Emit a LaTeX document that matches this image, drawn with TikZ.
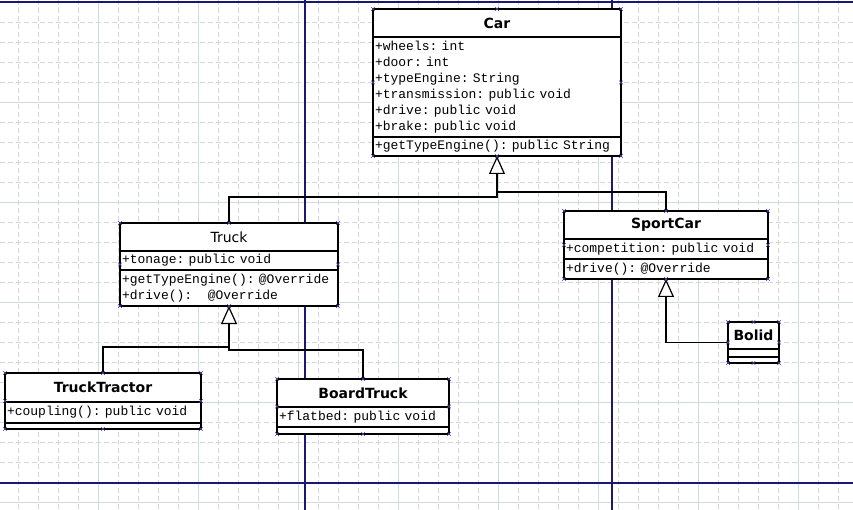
\documentclass[tikz,border=0pt]{standalone}
\usepackage{fontspec}
\setmonofont{Liberation Mono}
\newfontfamily\umlsans{DejaVu Sans}
\usetikzlibrary{arrows.meta,positioning,fit,calc}
\definecolor{umlnavy}{RGB}{25,25,115}
\definecolor{umlminor}{RGB}{214,214,214}
\definecolor{umlmajor}{RGB}{208,220,220}
\definecolor{umlhandle}{RGB}{70,70,170}
\newcommand\umlmono{\ttfamily\fontsize{13}{16}\selectfont\frenchspacing
  \spaceskip=0.6em\relax\xspaceskip=0.6em\relax}
\tikzset{
  ctitle/.style={rectangle, draw, fill=white, line width=1.7pt, inner sep=0pt, outer sep=0pt,
                 minimum height=28pt, font=\umlsans\bfseries\fontsize{14}{16}\selectfont},
  cpart/.style={rectangle, draw, fill=white, line width=1.7pt, inner xsep=2pt, inner ysep=0pt,
                outer sep=0pt, align=left, font=\umlmono},
  cbox/.style={inner sep=0pt, outer sep=0pt},
  clink/.style={line width=1.7pt, black},
  cgen/.style={clink, -{Triangle[length=18pt, width=16pt, fill=white, line width=1.2pt]}},
  chdl/.style={umlhandle, line width=0.6pt},
  cgridminor/.style={umlminor, line width=0.6pt, dash pattern=on 5pt off 3pt},
  cgridmajor/.style={umlmajor, line width=0.8pt},
  cpage/.style={umlnavy, line width=1.1pt},
}

\begin{document}
\begin{tikzpicture}[x=1pt,y=-1pt]
        \useasboundingbox (0,0) rectangle (853,510);
        % grid
        \foreach \gx in {18,38,...,838} \draw[cgridminor] (\gx,0) -- (\gx,510);
        \foreach \gy in {2,22,...,502} \draw[cgridminor] (0,\gy) -- (853,\gy);
        \foreach \gx in {98,198,...,798} \draw[cgridmajor] (\gx,0) -- (\gx,510);
        \foreach \gy in {102,202,...,502} \draw[cgridmajor] (0,\gy) -- (853,\gy);
        % page borders
        \draw[cpage] (0,2) -- (853,2);
        \draw[cpage] (0,483) -- (853,483);
        \draw[cpage] (305,0) -- (305,510);
        \draw[cpage] (612,0) -- (612,510);
        % Car
        \node[ctitle, minimum width=248pt] (cartitle) at (497,23) {Car};
        \node[cpart, text width=244pt, minimum height=100pt, below=0pt of cartitle] (carattr)
          {+wheels: int\\+door: int\\+typeEngine: String\\+transmission: public void\\+drive: public void\\+brake: public void};
        \node[cpart, text width=244pt, minimum height=19pt, below=0pt of carattr] (carmeth)
          {+getTypeEngine(): public String};
        \node[cbox, fit=(cartitle)(carmeth)] (car) {};
        % Truck
        \node[ctitle, minimum width=218pt, font=\umlsans\fontsize{14}{16}\selectfont] (trucktitle) at (229,237) {Truck};
        \node[cpart, text width=214pt, minimum height=19pt, below=0pt of trucktitle] (truckattr)
          {+tonage: public void};
        \node[cpart, text width=214pt, minimum height=36pt, below=0pt of truckattr] (truckmeth)
          {+getTypeEngine(): @Override\\+drive():\hspace*{1.2em}@Override};
        \node[cbox, fit=(trucktitle)(truckmeth)] (truck) {};
        % SportCar
        \node[ctitle, minimum width=204pt] (sporttitle) at (666,225) {SportCar};
        \node[cpart, text width=200pt, minimum height=20pt, below=0pt of sporttitle] (sportattr)
          {+competition: public void};
        \node[cpart, text width=200pt, minimum height=20pt, below=0pt of sportattr] (sportmeth)
          {+drive(): @Override};
        \node[cbox, fit=(sporttitle)(sportmeth)] (sport) {};
        % TruckTractor
        \node[ctitle, minimum width=196pt, minimum height=29pt] (tracttitle) at (103,387.5) {TruckTractor};
        \node[cpart, text width=192pt, minimum height=21pt, below=0pt of tracttitle] (tractattr)
          {+coupling(): public void};
        \node[cpart, text width=192pt, minimum height=6pt, below=0pt of tractattr] (tractmeth) {};
        \node[cbox, fit=(tracttitle)(tractmeth)] (tractor) {};
        % BoardTruck
        \node[ctitle, minimum width=172pt] (boardtitle) at (363,393) {BoardTruck};
        \node[cpart, text width=168pt, minimum height=20pt, below=0pt of boardtitle] (boardattr)
          {+flatbed: public void};
        \node[cpart, text width=168pt, minimum height=7pt, below=0pt of boardattr] (boardmeth) {};
        \node[cbox, fit=(boardtitle)(boardmeth)] (board) {};
        % Bolid
        \node[ctitle, minimum width=51pt, minimum height=27pt] (bolidtitle) at (753.5,335.5) {Bolid};
        \node[cpart, text width=47pt, minimum height=8pt, below=0pt of bolidtitle] (bolidattr) {};
        \node[cpart, text width=47pt, minimum height=6pt, below=0pt of bolidattr] (bolidmeth) {};
        \node[cbox, fit=(bolidtitle)(bolidmeth)] (bolid) {};
        % generalisations
        \coordinate (cj1) at (497,197);
        \coordinate (cj2) at (497,192);
        \coordinate (tj1) at (229,350);
        \coordinate (tj2) at (229,347);
        \draw[cgen] (truck.north) |- (cj1) -- (car.south);
        \draw[clink] (sport.north) |- (cj2);
        \draw[cgen] (board.north) |- (tj1) -- (truck.south);
        \draw[clink] (tractor.north) |- (tj2);
        \draw[cgen] (bolid.west) -| (sport.south);
        % selection handles
        \foreach \c in {car,truck,sport,tractor,board,bolid}
          \foreach \a in {north west,north,north east,east,south east,south,south west,west}
            \draw[chdl] (\c.\a) +(-1.8,-1.8) -- +(1.8,1.8) +(-1.8,1.8) -- +(1.8,-1.8);
    \end{tikzpicture}
\end{document}
